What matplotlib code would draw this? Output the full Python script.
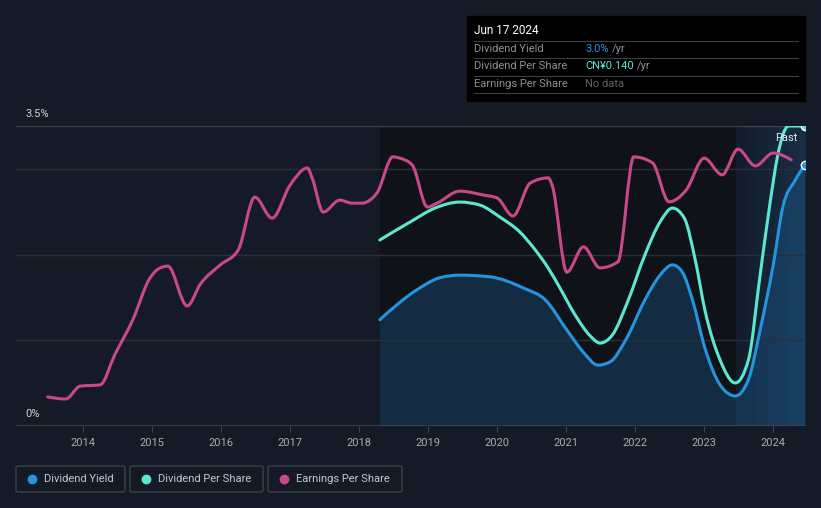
"""
Dividend yield / DPS / EPS history chart (dark theme)
"""
import numpy as np
import matplotlib
matplotlib.use('Agg')
import matplotlib.pyplot as plt
from matplotlib.patches import Rectangle, FancyBboxPatch, PathPatch
from matplotlib.path import Path
from matplotlib.lines import Line2D

plt.rcParams['font.family'] = ['Roboto', 'DejaVu Sans']

# ---- data ----
eps_years = [2013.49, 2013.75, 2013.96, 2014.25, 2014.46, 2014.72, 2014.97, 2015.12, 2015.23,
             2015.51, 2015.70, 2015.99, 2016.25, 2016.49, 2016.74, 2017.00, 2017.25,
             2017.32, 2017.48, 2017.72, 2017.90, 2018.04, 2018.26, 2018.49, 2018.59, 2018.77,
             2018.99, 2019.13, 2019.46, 2019.80, 2020.00, 2020.23, 2020.48, 2020.74, 2020.80,
             2021.01, 2021.25, 2021.49, 2021.75, 2021.98, 2022.25, 2022.49, 2022.74, 2023.00,
             2023.26, 2023.49, 2023.74, 2024.00, 2024.26]
eps_vals = [0.068, 0.063, 0.093, 0.096, 0.166, 0.247, 0.345, 0.369, 0.373,
            0.280, 0.331, 0.376, 0.411, 0.534, 0.485, 0.562, 0.602,
            0.579, 0.499, 0.527, 0.520, 0.520, 0.544, 0.628, 0.625, 0.609,
            0.511, 0.520, 0.548, 0.539, 0.532, 0.490, 0.567, 0.579, 0.560,
            0.359, 0.418, 0.369, 0.383, 0.628, 0.614, 0.523, 0.551, 0.625,
            0.586, 0.646, 0.607, 0.637, 0.621]

dy_years = [2018.30, 2018.84, 2019.17, 2019.46, 2019.90, 2020.38, 2020.70, 2021.01, 2021.25,
            2021.46, 2021.64, 2021.86, 2022.14, 2022.36, 2022.54, 2022.68, 2022.83, 2023.01,
            2023.23, 2023.45, 2023.64, 2023.81, 2024.00, 2024.14, 2024.32, 2024.46]
dy_vals = [1.24, 1.59, 1.73, 1.76, 1.74, 1.61, 1.47, 1.12, 0.86,
           0.71, 0.75, 1.00, 1.47, 1.76, 1.88, 1.80, 1.47, 0.91,
           0.48, 0.35, 0.54, 1.12, 1.88, 2.56, 2.87, 3.05]

dps_years = [2018.30, 2018.74, 2019.10, 2019.46, 2019.75, 2020.04, 2020.33, 2020.52, 2020.74,
             2020.91, 2021.13, 2021.35, 2021.49, 2021.67, 2021.90, 2022.14, 2022.36, 2022.54,
             2022.71, 2022.87, 2023.01, 2023.23, 2023.45, 2023.64, 2023.81, 2023.96, 2024.06,
             2024.22, 2024.46]
dps_vals = [0.0868, 0.0952, 0.1017, 0.1045, 0.1031, 0.0975, 0.0905, 0.0835, 0.0737,
            0.0644, 0.0518, 0.0420, 0.0387, 0.0425, 0.0588, 0.0798, 0.0952, 0.1017,
            0.0971, 0.0775, 0.0541, 0.0308, 0.0201, 0.0308, 0.0705, 0.1055, 0.1255,
            0.1400, 0.1400]

x_ticks = list(range(2014, 2025))
past_start, past_end = 2023.46, 2024.46

BG = '#151b26'
C_DY = '#2394df'
C_DPS = '#5de6d0'
C_EPS = '#c9488a'
GRID = '#2a303a'
TXT = '#a7abb3'

W, H = 821, 508
fig = plt.figure(figsize=(W / 100, H / 100), dpi=100, facecolor=BG)


def fx(px):
    return px / W


def fy(py):
    return 1 - py / H


def smooth_path(xs, ys, close_to=None):
    """Bezier path through the points, monotone-x cubic (like d3 curveMonotoneX)"""
    x = np.asarray(xs, float)
    y = np.asarray(ys, float)
    n = len(x)
    h = np.diff(x)
    s = np.diff(y) / h
    m = np.zeros(n)
    for i in range(1, n - 1):
        p = (s[i - 1] * h[i] + s[i] * h[i - 1]) / (h[i - 1] + h[i])
        m[i] = (np.sign(s[i - 1]) + np.sign(s[i])) * min(abs(s[i - 1]), abs(s[i]), 0.5 * abs(p))
    m[0] = (3 * s[0] - m[1]) / 2
    m[-1] = (3 * s[-1] - m[-2]) / 2
    verts = [(x[0], y[0])]
    codes = [Path.MOVETO]
    for i in range(n - 1):
        d = h[i] / 3
        verts += [(x[i] + d, y[i] + m[i] * d),
                  (x[i + 1] - d, y[i + 1] - m[i + 1] * d),
                  (x[i + 1], y[i + 1])]
        codes += [Path.CURVE4] * 3
    if close_to is not None:
        verts += [(x[-1], close_to), (x[0], close_to), (x[0], y[0])]
        codes += [Path.LINETO, Path.LINETO, Path.CLOSEPOLY]
    return Path(verts, codes)


ax = fig.add_axes([fx(16), fy(426), fx(805 - 16), (426 - 126) / H])
ax.set_facecolor(BG)
ax.set_xlim(2013.03, past_end)
ax.set_ylim(0, 3.5)
for s in ax.spines.values():
    s.set_visible(False)

# darker band where dividend data exists
ax.axvspan(dy_years[0], past_start, color='#0f1319', zorder=0)
# past region gradient
grad = np.linspace(0, 1, 100).reshape(1, -1)
ax.imshow(grad, extent=[past_start, past_end, 0, 3.5], aspect='auto', zorder=0.5,
          cmap=matplotlib.colors.LinearSegmentedColormap.from_list(
              'p', ['#121d2b', '#1a3149']), alpha=0.9)

# dividend yield fill (under the grid, like the reference)
ax.add_patch(PathPatch(smooth_path(dy_years, dy_vals, close_to=0), fc='#1e6fb0',
                       alpha=0.28, lw=0, zorder=0.8))

for g in [1, 2, 3]:
    ax.axhline(g, color=GRID, lw=1, zorder=1)
ax.axhline(3.5, color='#3d424b', lw=1, zorder=1)
ax.axhline(0, color='#3d424b', lw=1.5, zorder=1)

ax.set_xticks(x_ticks)
ax.set_xticklabels([str(y) for y in x_ticks], color=TXT, fontsize=8)
ax.tick_params(axis='x', length=4, color='#3d424b', pad=5)
ax.set_yticks([])

ax.add_patch(PathPatch(smooth_path(dy_years, dy_vals), fc='none', ec=C_DY, lw=2.2,
                       zorder=4, capstyle='round'))
ax.plot(dy_years[-1], dy_vals[-1], 'o', ms=6, color=C_DY, mec='white', mew=1, zorder=6)

# DPS on its own scale
ax2 = ax.twinx()
ax2.set_ylim(0, 0.14)
ax2.axis('off')
ax2.add_patch(PathPatch(smooth_path(dps_years, dps_vals), fc='none', ec=C_DPS, lw=2.2,
                        zorder=4, capstyle='round'))
ax2.plot(dps_years[-1], dps_vals[-1], 'o', ms=6, color=C_DPS, mec='white', mew=1, zorder=6)

# EPS on its own scale
ax3 = ax.twinx()
ax3.set_ylim(0, 0.70)
ax3.axis('off')
ax3.add_patch(PathPatch(smooth_path(eps_years, eps_vals), fc='none', ec=C_EPS, lw=2.2,
                        zorder=3, capstyle='round'))

for a in (ax, ax2, ax3):
    a.set_xlim(2013.03, past_end)

fig.text(fx(25), fy(114), '3.5%', color='#d0d3d8', fontsize=8, va='center')
fig.text(fx(25), fy(414), '0%', color='#d0d3d8', fontsize=8, va='center')
fig.text(fx(797), fy(138), 'Past', color='#e6e8eb', fontsize=8, va='center', ha='right')

# tooltip
fig.patches.append(Rectangle((fx(467), fy(101)), fx(805 - 467), (101 - 16) / H,
                             transform=fig.transFigure, color='#000000', zorder=10))
fig.text(fx(474), fy(30), 'Jun 17 2024', color='white', fontsize=8.5, va='center', zorder=11)
for ly in [41, 58, 76, 93]:
    fig.add_artist(Line2D([fx(474), fx(798)], [fy(ly), fy(ly)], color='#3a3d42', lw=0.8, zorder=11))
rows = [('Dividend Yield', '3.0%', C_DY, 49),
        ('Dividend Per Share', 'CN¥0.140', C_DPS, 66),
        ('Earnings Per Share', 'No data', '#5f6369', 84)]
for lab, val, col, ry in rows:
    fig.text(fx(474), fy(ry), lab, color='#8d9199', fontsize=8, va='center', zorder=11)
    t = fig.text(fx(585), fy(ry), val, color=col, fontsize=8, va='center', zorder=11)
    if val != 'No data':
        fig.canvas.draw()
        bb = t.get_window_extent()
        fig.text(bb.x1 / W + fx(3), fy(ry), '/yr', color='#8d9199', fontsize=8, va='center', zorder=11)

# legend boxes
legend = [('Dividend Yield', C_DY, 16, 125),
          ('Dividend Per Share', C_DPS, 130, 263),
          ('Earnings Per Share', C_EPS, 268, 402)]
for lab, col, x0, x1 in legend:
    fig.patches.append(FancyBboxPatch((fx(x0), fy(492)), fx(x1 - x0), 26 / H,
                                      boxstyle='round,pad=0,rounding_size=0.003',
                                      transform=fig.transFigure, fc='none', ec='#3d424b', lw=1))
    fig.add_artist(Line2D([fx(x0 + 16)], [fy(479)], marker='o', ms=6, color=col, lw=0))
    fig.text(fx(x0 + 28), fy(479), lab, color='#c3c6cc', fontsize=8, va='center')

fig.savefig('out.png', dpi=100, facecolor=BG)
